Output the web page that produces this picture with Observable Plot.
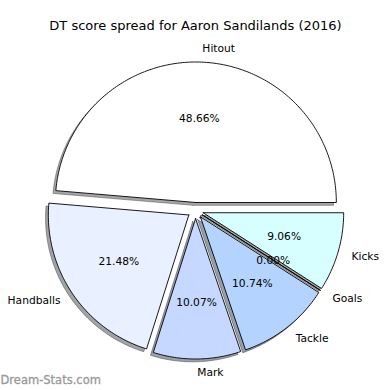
<!DOCTYPE html>
<html><head><meta charset="utf-8">
<script src="https://cdn.jsdelivr.net/npm/d3@7"></script>
<script src="https://cdn.jsdelivr.net/npm/@observablehq/plot@0.6"></script>
<style>body{margin:0;background:#fff;}</style>
</head><body><div id="chart"></div>
<script>
const title = "DT score spread for Aaron Sandilands (2016)";
const categories = ["Hitout", "Handballs", "Mark", "Tackle", "Goals", "Kicks"];
const values = [48.66, 21.48, 10.07, 10.74, 0.00, 9.06];
const colors = ["#ffffff", "#e9f0ff", "#c6d8ff", "#b4d4ff", "#b0c8ff", "#d8ffff"];
const watermark = "Dream-Stats.com";

// layout (pixels)
const W = 390, H = 390, CX = 195, CY = 210, R = 140.5;
const explode = 0.057, labelDist = 1.1, pctDist = 0.6, shadowOff = 0.02;

const total = d3.sum(values);
let cum = 0;
const wedges = categories.map((cat, i) => {
  const t1 = cum / total * 360;
  cum += values[i];
  const t2 = cum / total * 360;
  const mid = (t1 + t2) / 2 * Math.PI / 180;
  const ox = explode * Math.cos(mid), oy = explode * Math.sin(mid);
  const pts = [{x: ox, y: oy}];
  const n = Math.max(1, Math.ceil(t2 - t1));
  for (let k = 0; k <= n; k++) {
    const t = (t1 + (t2 - t1) * k / n) * Math.PI / 180;
    pts.push({x: ox + Math.cos(t), y: oy + Math.sin(t)});
  }
  pts.push({x: ox, y: oy});
  const lx = ox + labelDist * Math.cos(mid), ly = oy + labelDist * Math.sin(mid);
  return {
    cat, value: values[i], pts,
    lx, ly, right: lx > 0,
    px: ox + pctDist * Math.cos(mid), py: oy + pctDist * Math.sin(mid)
  };
});

const wedgePoints = wedges.flatMap(w => w.pts.map(p => ({...p, cat: w.cat})));

const shadowMarks = wedges.map((w, i) => {
  const c = d3.rgb(colors[i]);
  const sc = d3.rgb(c.r * 0.3, c.g * 0.3, c.b * 0.3).formatHex();
  return Plot.line(w.pts, {
    x: d => d.x - shadowOff, y: d => d.y - shadowOff,
    fill: sc, fillOpacity: 0.5, stroke: sc, strokeOpacity: 0.5, strokeWidth: 1
  });
});

const chart = Plot.plot({
  width: W, height: H,
  margin: 0,
  x: {domain: [-CX / R, (W - CX) / R], axis: null},
  y: {domain: [(CY - H) / R, CY / R], axis: null},
  color: {domain: categories, range: colors},
  style: {fontFamily: "DejaVu Sans", background: "#fff"},
  marks: [
    ...shadowMarks,
    Plot.line(wedgePoints, {x: "x", y: "y", z: "cat", fill: "cat", stroke: "#000", strokeWidth: 0.9}),
    Plot.text(wedges.filter(w => w.right), {x: "lx", y: "ly", text: "cat", textAnchor: "start", fontSize: 10.67, fill: "#000"}),
    Plot.text(wedges.filter(w => !w.right), {x: "lx", y: "ly", text: "cat", textAnchor: "end", fontSize: 10.67, fill: "#000"}),
    Plot.text(wedges, {x: "px", y: "py", text: d => d.value.toFixed(2) + "%", textAnchor: "middle", fontSize: 10.67, fill: "#000"}),
    Plot.text([title], {text: d => d, frameAnchor: "top", dy: 25, lineAnchor: "middle", fontSize: 13, fill: "#000"}),
    Plot.text([watermark], {text: d => d, frameAnchor: "bottom-left", dx: 0, dy: -10, textAnchor: "start", lineAnchor: "middle", fontSize: 11.5, fill: "#999", stroke: "#999", strokeWidth: 0.3})
  ]
});
document.getElementById("chart").appendChild(chart);
</script>
</body></html>
